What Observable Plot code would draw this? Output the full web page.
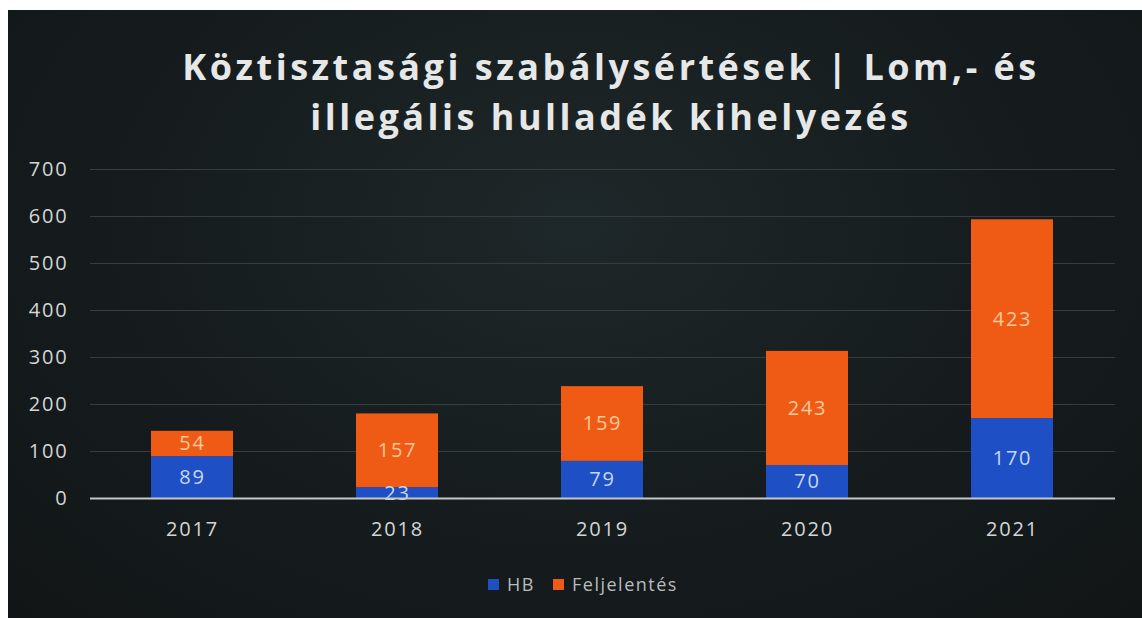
<!DOCTYPE html>
<html><head><meta charset="utf-8">
<script src="https://cdn.jsdelivr.net/npm/d3@7"></script>
<script src="https://cdn.jsdelivr.net/npm/@observablehq/plot@0.6"></script>
<style>
html,body{margin:0;padding:0;background:#fff;width:1142px;height:618px;overflow:hidden}
#panel{position:absolute;left:8px;top:10px;width:1134px;height:608px;
 background:radial-gradient(ellipse at 50% 35%, #1e2729 0%, #161c1e 55%, #111516 100%);}
#title{position:absolute;left:0;top:32px;width:1206px;text-align:center;font-family:"Open Sans",sans-serif;font-weight:700;
 font-size:36px;line-height:50px;letter-spacing:3.5px;color:#e6e8e8;}
#chart{position:absolute;left:0;top:140px}
#legend{position:absolute;left:0;top:562px;width:1150px;text-align:center;font-family:"Open Sans",sans-serif;font-size:18px;letter-spacing:1.5px;color:#b8bcbc}
#legend span.sw{display:inline-block;width:11px;height:11px;margin-right:8px;vertical-align:1px}
#legend span.it{margin:0 9px}
</style></head>
<body>
<div id="panel">
 <div id="title">Köztisztasági szabálysértések | Lom,- és<br>illegális hulladék kihelyezés</div>
 <div id="chart"></div>
 <div id="legend"></div>
</div>
<script>
const years = ["2017","2018","2019","2020","2021"];
const series = ["HB","Feljelentés"];
const hb = [89,23,79,70,170];
const feljelentes = [54,157,159,243,423];
const yTicks = [0,100,200,300,400,500,600,700];
const colors = ["#1f4fc4","#ef5b14"];
const labelColors = ["#c6d8f4","#f9c99c"];

const rows = [];
years.forEach((y,i)=>{
  rows.push({year:y, series:series[0], value:hb[i]});
  rows.push({year:y, series:series[1], value:feljelentes[i]});
});

const plot = Plot.plot({
  width:1134, height:400,
  marginLeft:82, marginRight:27, marginTop:19, marginBottom:52,
  style:{background:"transparent", fontFamily:"'Open Sans',sans-serif", letterSpacing:"1.8px"},
  x:{domain:years, paddingInner:0.6, paddingOuter:0.3, label:null},
  y:{domain:[0,700], ticks:yTicks, label:null},
  color:{domain:series, range:colors},
  marks:[
    Plot.ruleY(yTicks.filter(d=>d>0), {stroke:"#363d3f", strokeWidth:1.2}),
    Plot.barY(rows, Plot.stackY({x:"year", y:"value", fill:"series", order:series})),
    Plot.text(rows, Plot.stackY({x:"year", y:"value", z:"series", order:series, text:d=>String(d.value),
      fill:d=>labelColors[series.indexOf(d.series)], fontSize:20})),
    Plot.ruleY([0], {stroke:"#c4c8c8", strokeWidth:2}),
    Plot.axisY({ticks:yTicks, tickSize:0, tickPadding:22, fontSize:20, color:"#d4d6d6", label:null}),
    Plot.axisX({tickSize:0, tickPadding:23, fontSize:20, color:"#d4d6d6", label:null})
  ]
});
document.getElementById("chart").appendChild(plot);

const lg = document.getElementById("legend");
series.forEach((s,i)=>{
  const it = document.createElement("span"); it.className="it";
  const sw = document.createElement("span"); sw.className="sw"; sw.style.background=colors[i];
  it.appendChild(sw); it.appendChild(document.createTextNode(s));
  lg.appendChild(it);
});
</script>
</body></html>
